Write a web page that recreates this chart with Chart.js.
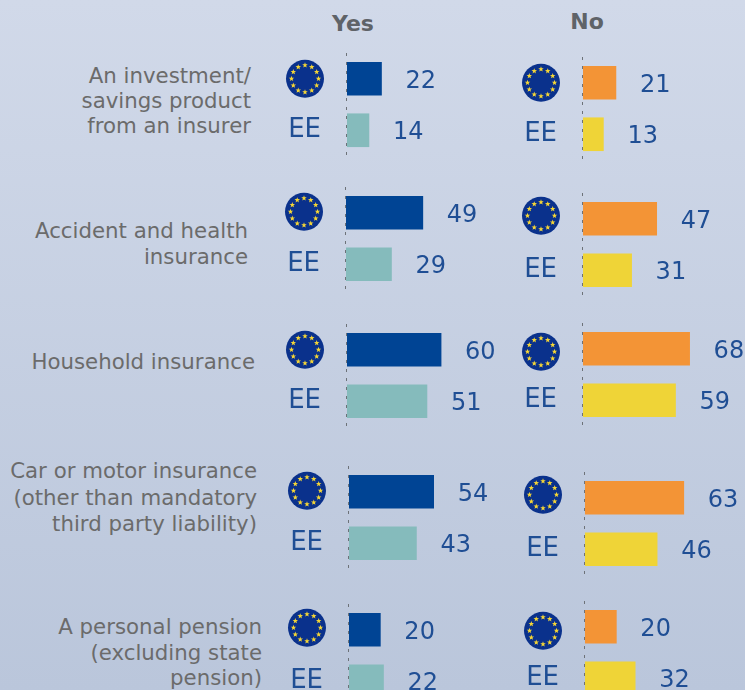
<!DOCTYPE html>
<html>
<head>
<meta charset="utf-8">
<title>Insurance products</title>
<script src="https://cdn.jsdelivr.net/npm/chart.js@4"></script>
<style>
  html, body { margin: 0; padding: 0; }
  body {
    width: 745px; height: 690px; overflow: hidden; position: relative;
    background: linear-gradient(180deg, #d1d9e9 0%, #bac6db 100%);
    font-family: "DejaVu Sans", sans-serif;
  }
  canvas { position: absolute; }
  .head { position: absolute; font-weight: bold; font-size: 22px; color: #5f6368; transform: translateX(-50%); }
  .label { position: absolute; text-align: right; font-size: 21.3px; color: #6b6b6b; white-space: pre; }
</style>
</head>
<body>
<script>
const categories = [
  "An investment/\nsavings product\nfrom an insurer",
  "Accident and health\ninsurance",
  "Household insurance",
  "Car or motor insurance\n(other than mandatory\nthird party liability)",
  "A personal pension\n(excluding state\npension)"
];
const rowLabels = ["EU", "EE"];
const yesEu = [22, 49, 60, 54, 20];
const yesEe = [14, 29, 51, 43, 22];
const noEu = [21, 47, 68, 63, 20];
const noEe = [13, 31, 59, 46, 32];

// where each small panel sits on the page
const yesAxisX = [347, 346, 347, 349, 349];
const noAxisX = [583, 583, 583, 585, 585];
const yesTop = [53, 187, 324, 466, 604];
const noTop = [57, 193, 323, 472, 601];
const yesFlagShift = [0, -1, 0, -1, -2];
const noFlagShift = [0, -3, 3, -3, 4];
const labelRight = [251, 248, 255, 257, 262];
const labelTop = [63, 218, 349, 458, 614];
const labelLine = [25, 26, 26, 26.5, 25.5];

const LEFT_GUTTER = 70;
const PLOT_W = 196;
const AXIS_MAX = 125; // 196px / 125 = 1.57 px per point
const PANEL_H = 103;
const TEXT_BLUE = "#1f4e94";

function drawFlag(ctx, cx, cy) {
  ctx.save();
  ctx.fillStyle = "#0a318c";
  ctx.beginPath();
  ctx.arc(cx, cy, 19, 0, Math.PI * 2);
  ctx.fill();
  ctx.fillStyle = "#f5d636";
  for (let i = 0; i < 12; i++) {
    const a = i * Math.PI / 6;
    const sx = cx + Math.cos(a) * 13.5;
    const sy = cy + Math.sin(a) * 13.5;
    ctx.beginPath();
    for (let k = 0; k < 10; k++) {
      const r = k % 2 ? 1.2 : 2.9;
      const b = -Math.PI / 2 + k * Math.PI / 5;
      ctx.lineTo(sx + Math.cos(b) * r, sy + Math.sin(b) * r);
    }
    ctx.closePath();
    ctx.fill();
  }
  ctx.restore();
}

// dashed axis, values next to the bars and the EU flag in front of the first row
const panelDecor = {
  id: "panelDecor",
  beforeDatasetsDraw(chart) {
    const ctx = chart.ctx;
    const area = chart.chartArea;
    ctx.save();
    ctx.strokeStyle = "#6d7278";
    ctx.lineWidth = 1;
    ctx.setLineDash([3, 6]);
    ctx.beginPath();
    ctx.moveTo(area.left - 0.5, area.top);
    ctx.lineTo(area.left - 0.5, area.bottom);
    ctx.stroke();
    ctx.restore();
  },
  afterDraw(chart, args, opts) {
    const ctx = chart.ctx;
    const xs = chart.scales.x;
    const ys = chart.scales.y;
    drawFlag(ctx, xs.left - 42, ys.getPixelForValue(0) + opts.flagShift);
    ctx.save();
    ctx.font = '24px "DejaVu Sans"';
    ctx.fillStyle = TEXT_BLUE;
    ctx.textAlign = "left";
    ctx.textBaseline = "middle";
    chart.data.datasets[0].data.forEach((v, i) => {
      ctx.fillText(String(v), xs.getPixelForValue(v) + 24, ys.getPixelForValue(i) + 3);
    });
    ctx.restore();
  }
};

function addPanel(axisX, top, values, colors, flagShift) {
  const canvas = document.createElement("canvas");
  canvas.style.left = (axisX - LEFT_GUTTER) + "px";
  canvas.style.top = top + "px";
  canvas.width = LEFT_GUTTER + PLOT_W;
  canvas.height = PANEL_H;
  document.body.appendChild(canvas);

  new Chart(canvas.getContext("2d"), {
    type: "bar",
    data: {
      labels: rowLabels,
      datasets: [{
        data: values,
        backgroundColor: colors,
        barThickness: 33,
        borderWidth: 0
      }]
    },
    options: {
      indexAxis: "y",
      responsive: false,
      animation: false,
      layout: { padding: 0 },
      plugins: {
        legend: { display: false },
        tooltip: { enabled: false },
        panelDecor: { flagShift: flagShift }
      },
      scales: {
        x: { display: false, min: 0, max: AXIS_MAX },
        y: {
          afterFit(scale) { scale.width = LEFT_GUTTER; scale.paddingTop = 0; scale.paddingBottom = 0; },
          grid: { display: false, drawTicks: false },
          border: { display: false },
          ticks: {
            padding: 26,
            color: TEXT_BLUE,
            font: { size: 26, family: '"DejaVu Sans"' },
            callback(value) { return value === 0 ? "" : rowLabels[value]; }
          }
        }
      }
    },
    plugins: [panelDecor]
  });
}

function addHead(text, x, y) {
  const d = document.createElement("div");
  d.className = "head";
  d.textContent = text;
  d.style.left = x + "px";
  d.style.top = y + "px";
  document.body.appendChild(d);
}

addHead("Yes", 353, 11);
addHead("No", 587, 9);

categories.forEach((name, i) => {
  const d = document.createElement("div");
  d.className = "label";
  d.textContent = name;
  d.style.right = (745 - labelRight[i]) + "px";
  d.style.top = labelTop[i] + "px";
  d.style.lineHeight = labelLine[i] + "px";
  document.body.appendChild(d);

  addPanel(yesAxisX[i], yesTop[i], [yesEu[i], yesEe[i]], ["#004494", "#85bbbc"], yesFlagShift[i]);
  addPanel(noAxisX[i], noTop[i], [noEu[i], noEe[i]], ["#f39436", "#efd437"], noFlagShift[i]);
});
</script>
</body>
</html>
